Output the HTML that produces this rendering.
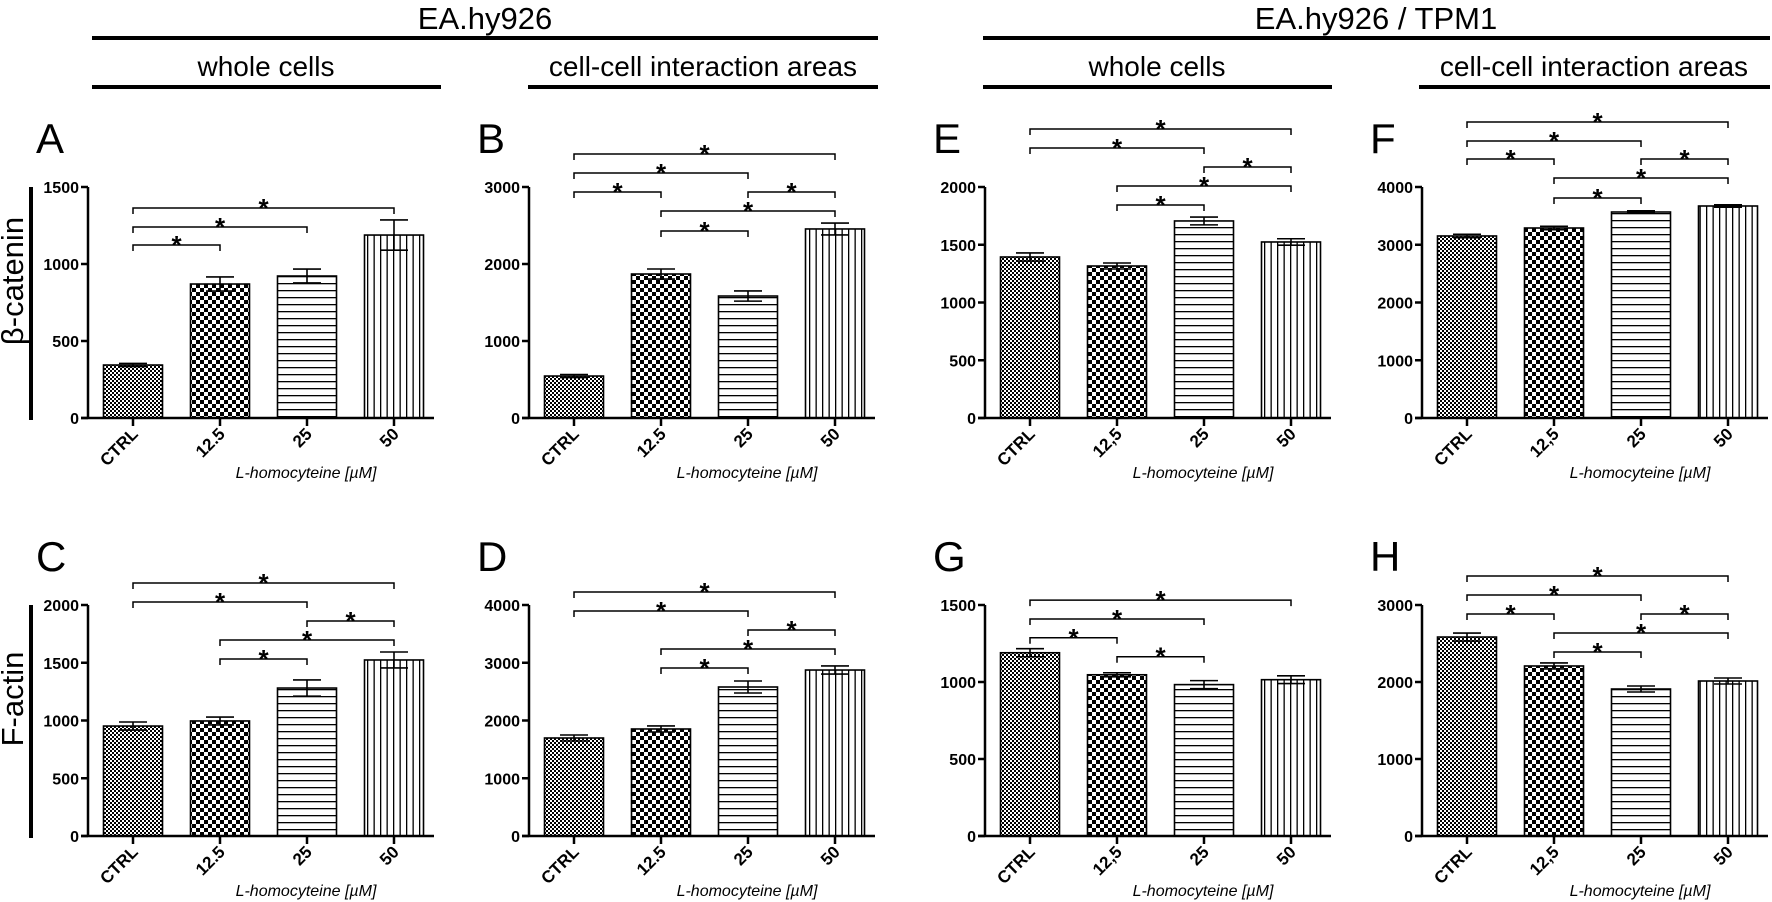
<!DOCTYPE html>
<html><head><meta charset="utf-8"><style>
html,body{margin:0;padding:0;background:#fff;}
svg{display:block;font-family:"Liberation Sans",Arial,sans-serif;}
</style></head><body>
<svg id="fig" width="1772" height="902" viewBox="0 0 1772 902" xmlns="http://www.w3.org/2000/svg">
<defs>
<pattern id="pFine" patternUnits="userSpaceOnUse" width="4" height="4"><rect width="4" height="4" fill="#fff"/><rect width="2" height="2" fill="#000"/><rect x="2" y="2" width="2" height="2" fill="#000"/></pattern>
<pattern id="pCoarse" patternUnits="userSpaceOnUse" width="8" height="8"><rect width="8" height="8" fill="#fff"/><rect width="4" height="4" fill="#000"/><rect x="4" y="4" width="4" height="4" fill="#000"/></pattern>
<pattern id="pH" patternUnits="userSpaceOnUse" width="8" height="7"><rect width="8" height="7" fill="#fff"/><rect y="3" width="8" height="1.3" fill="#000"/></pattern>
<pattern id="pV" patternUnits="userSpaceOnUse" width="6.5" height="8"><rect width="6.5" height="8" fill="#fff"/><rect x="3" width="1.3" height="8" fill="#000"/></pattern>
</defs>
<g>
<text x="485" y="29" font-size="31" text-anchor="middle">EA.hy926</text>
<rect x="92" y="36" width="786" height="4" fill="#000"/>
</g>
<g>
<text x="1376" y="29" font-size="31" text-anchor="middle">EA.hy926 / TPM1</text>
<rect x="983" y="36" width="787" height="4" fill="#000"/>
</g>
<g><text x="266" y="76" font-size="28" text-anchor="middle">whole cells</text><rect x="92" y="85" width="349" height="4" fill="#000"/></g>
<g><text x="703" y="76" font-size="28" text-anchor="middle">cell-cell interaction areas</text><rect x="528" y="85" width="350" height="4" fill="#000"/></g>
<g><text x="1157" y="76" font-size="28" text-anchor="middle">whole cells</text><rect x="983" y="85" width="349" height="4" fill="#000"/></g>
<g><text x="1594" y="76" font-size="28" text-anchor="middle">cell-cell interaction areas</text><rect x="1419" y="85" width="351" height="4" fill="#000"/></g>
<g>
<text transform="translate(23,281) rotate(-90)" font-size="31" text-anchor="middle">β-catenin</text>
<rect x="29" y="187" width="4" height="233" fill="#000"/>
</g>
<g>
<text transform="translate(23,699) rotate(-90)" font-size="31" text-anchor="middle">F-actin</text>
<rect x="29" y="605" width="4" height="233" fill="#000"/>
</g>
</svg>
<script>
const catsEA = ["CTRL","12.5","25","50"];
const catsTPM = ["CTRL","12,5","25","50"];
const valuesA = [344, 870, 922, 1188];
const errorsA = [10, 46, 45, 98];
const ticksA = [0, 500, 1000, 1500];
const bracketsA = [[0,3,1364],[0,2,1240],[0,1,1123]];
const valuesB = [545, 1870, 1584, 2455];
const errorsB = [20, 65, 66, 77];
const ticksB = [0, 1000, 2000, 3000];
const bracketsB = [[0,3,3429],[0,2,3182],[0,1,2935],[2,3,2935],[1,3,2688],[1,2,2429]];
const valuesC = [952, 996, 1281, 1524];
const errorsC = [35, 34, 70, 69];
const ticksC = [0, 500, 1000, 1500, 2000];
const bracketsC = [[0,3,2190],[0,2,2026],[2,3,1861],[1,3,1697],[1,2,1532]];
const valuesD = [1697, 1853, 2580, 2874];
const errorsD = [52, 52, 104, 70];
const ticksD = [0, 1000, 2000, 3000, 4000];
const bracketsD = [[0,3,4225],[0,2,3896],[2,3,3567],[1,3,3238],[1,2,2909]];
const valuesE = [1394, 1316, 1706, 1524];
const errorsE = [35, 26, 34, 28];
const ticksE = [0, 500, 1000, 1500, 2000];
const bracketsE = [[0,3,2502],[0,2,2338],[2,3,2173],[1,3,2009],[1,2,1844]];
const valuesF = [3152, 3290, 3567, 3671];
const errorsF = [30, 30, 20, 20];
const ticksF = [0, 1000, 2000, 3000, 4000];
const bracketsF = [[0,3,5126],[0,2,4797],[0,1,4485],[2,3,4485],[1,3,4156],[1,2,3810]];
const valuesG = [1190, 1047, 983, 1015];
const errorsG = [26, 13, 26, 25];
const ticksG = [0, 500, 1000, 1500];
const bracketsG = [[0,3,1532],[0,2,1409],[0,1,1287],[1,2,1164]];
const valuesH = [2584, 2208, 1909, 2013];
const errorsH = [52, 39, 39, 39];
const ticksH = [0, 1000, 2000, 3000];
const bracketsH = [[0,3,3377],[0,2,3130],[0,1,2883],[2,3,2883],[1,3,2636],[1,2,2390]];

const NS = "http://www.w3.org/2000/svg";
const svg = document.getElementById("fig");
const fills = ["url(#pFine)","url(#pCoarse)","url(#pH)","url(#pV)"];
function mk(tag, attrs, parent){
  const e = document.createElementNS(NS, tag);
  for (const k in attrs) e.setAttribute(k, attrs[k]);
  parent.appendChild(e);
  return e;
}
function panel(letter, ax, y0, cats, vals, errs, ticks, brs){
  const g = mk("g", {}, svg);
  
  
  const maxV = ticks[ticks.length-1];
  const H = 231;
  const yS = v => y0 - v / maxV * H;
  const xS = i => ax + 45 + i * 87;
  const lt = mk("text", {x: ax-52, y: y0-265, "font-size": 42}, g);
  lt.textContent = letter;
  
  
  vals.forEach((v, i) => {
    const r = mk("rect", {x: xS(i)-29.5, y: yS(v), width: 59, height: y0 - yS(v), fill: fills[i], stroke: "#000", "stroke-width": 1.6}, g);
    
    
    const eg = mk("g", {stroke: "#000", "stroke-width": 1.6}, g);
    
    
    const hi = yS(v + errs[i]), lo = yS(v - errs[i]);
    mk("line", {x1: xS(i), x2: xS(i), y1: hi, y2: lo}, eg);
    mk("line", {x1: xS(i)-14, x2: xS(i)+14, y1: hi, y2: hi}, eg);
    mk("line", {x1: xS(i)-14, x2: xS(i)+14, y1: lo, y2: lo}, eg);
  });
  const axg = mk("g", {stroke: "#000", "stroke-width": 2.5}, g);
  
  
  mk("line", {x1: ax, x2: ax, y1: yS(maxV), y2: y0 + 1}, axg);
  mk("line", {x1: ax - 7, x2: ax + 346, y1: y0, y2: y0}, axg);
  ticks.forEach(t => {
    mk("line", {x1: ax - 7, x2: ax, y1: yS(t), y2: yS(t)}, axg);
    const tl = mk("text", {x: ax - 9, y: yS(t) + 6, "font-size": 16, "font-weight": "bold", "text-anchor": "end"}, g);
    tl.textContent = t;
    
    
  });
  cats.forEach((c, i) => {
    mk("line", {x1: xS(i), x2: xS(i), y1: y0, y2: y0 + 8}, axg);
    const xl = mk("text", {transform: "translate(" + (xS(i)+6) + "," + (y0+17) + ") rotate(-45)", "font-size": 17, "font-weight": "bold", "text-anchor": "end"}, g);
    xl.textContent = c;
    
    
  });
  const xt = mk("text", {x: ax + 218, y: y0 + 60, "font-size": 16, "font-style": "italic", "text-anchor": "middle"}, g);
  xt.textContent = "L-homocyteine [µM]";
  
  
  brs.forEach(b => {
    const bg = mk("g", {}, g);
    
    
    const y = yS(b[2]), x1 = xS(b[0]), x2 = xS(b[1]);
    mk("path", {d: "M" + x1 + "," + (y+6) + "V" + y + "H" + x2 + "V" + (y+6), fill: "none", stroke: "#000", "stroke-width": 1.5}, bg);
    const st = mk("text", {x: (x1+x2)/2, y: y + 9, "font-size": 26, "font-weight": "bold", "text-anchor": "middle"}, bg);
    st.textContent = "*";
  });
}
panel("A", 88, 418, catsEA, valuesA, errorsA, ticksA, bracketsA);
panel("B", 529, 418, catsEA, valuesB, errorsB, ticksB, bracketsB);
panel("E", 985, 418, catsTPM, valuesE, errorsE, ticksE, bracketsE);
panel("F", 1422, 418, catsTPM, valuesF, errorsF, ticksF, bracketsF);
panel("C", 88, 836, catsEA, valuesC, errorsC, ticksC, bracketsC);
panel("D", 529, 836, catsEA, valuesD, errorsD, ticksD, bracketsD);
panel("G", 985, 836, catsTPM, valuesG, errorsG, ticksG, bracketsG);
panel("H", 1422, 836, catsTPM, valuesH, errorsH, ticksH, bracketsH);
</script>
</body></html>
